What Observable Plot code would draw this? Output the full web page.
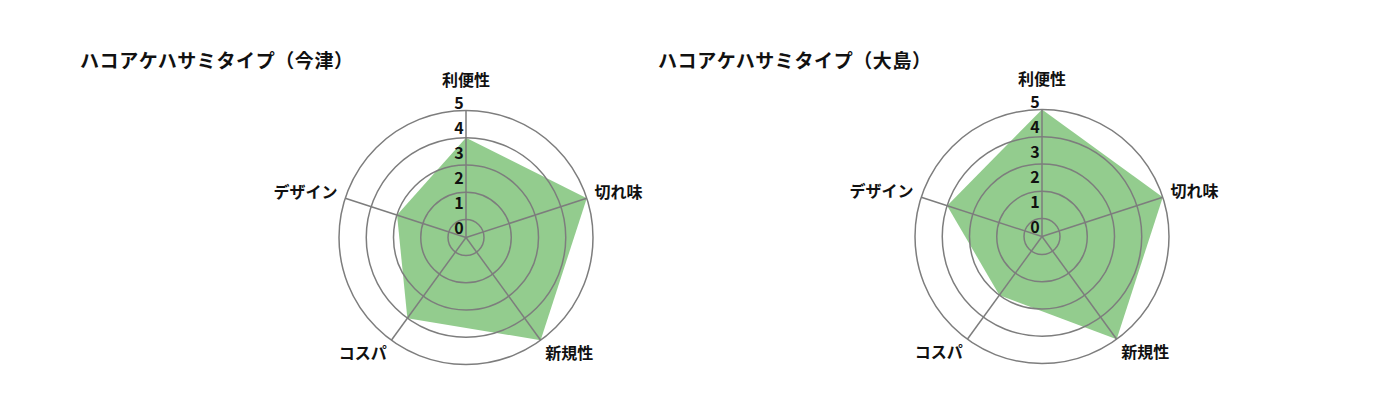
<!DOCTYPE html>
<html>
<head>
<meta charset="utf-8">
<script src="https://cdn.jsdelivr.net/npm/d3@7"></script>
<script src="https://cdn.jsdelivr.net/npm/@observablehq/plot@0.6"></script>
<style>
  body { margin: 0; background: #fff; font-family: "Noto Sans CJK JP", "Noto Sans", sans-serif; }
  #wrap { position: relative; width: 1400px; height: 420px; overflow: hidden; }
  .panel { position: absolute; top: 0; width: 578px; height: 420px; }
  .title { position: absolute; left: 0; top: 49px; font-size: 19px; line-height: 21px; letter-spacing: 0.6px; font-weight: bold; white-space: nowrap; color: #111; }
  .chart { position: absolute; left: 0; top: 70px; }
</style>
</head>
<body>
<div id="wrap"></div>
<script>
// ---- data ----
const axesLabels = ["利便性", "切れ味", "新規性", "コスパ", "デザイン"];
const titles = ["ハコアケハサミタイプ（今津）", "ハコアケハサミタイプ（大島）"];
const imabariValues = [4, 5, 5, 4, 3];
const oshimaValues = [5, 5, 5, 3, 4];
const ringValues = [1, 2, 3, 4, 5];
const tickLabels = [0, 1, 2, 3, 4, 5];

// ---- helpers ----
const rScale = d3.scaleLinear().domain([1, 5]).range([18, 127]);      // ring / value radius
const tickScale = d3.scaleLinear().domain([0, 5]).range([9, 134]);    // tick label radius
const n = axesLabels.length;
const ang = i => i * 2 * Math.PI / n;

function radar(values, title, panelLeft, centerX, centerY) {
  const panel = document.createElement("div");
  panel.className = "panel";
  panel.style.left = panelLeft + "px";
  const t = document.createElement("div");
  t.className = "title";
  t.textContent = title;
  panel.appendChild(t);

  const W = 578, H = 320, top = 70;
  const cx = centerX - panelLeft, cy = centerY - top;

  const poly = values.map((v, i) => ({x: rScale(v) * Math.sin(ang(i)), y: -rScale(v) * Math.cos(ang(i))}));
  const spokes = axesLabels.map((a, i) => ({x2: rScale(5) * Math.sin(ang(i)), y2: -rScale(5) * Math.cos(ang(i))}));
  const labels = axesLabels.map((a, i) => {
    const s = Math.sin(ang(i)), c = Math.cos(ang(i));
    const off = c > 0.9 ? -22 : c < 0 ? 7 : -3;
    return {text: a, x: 135 * s, y: -135 * c + off, side: s > 0.1 ? "start" : s < -0.1 ? "end" : "middle"};
  });

  const chart = Plot.plot({
    width: W, height: H, margin: 0,
    x: {domain: [-cx, W - cx], range: [0, W], axis: null},
    y: {domain: [-cy, H - cy], range: [0, H], axis: null},
    r: {type: "identity"},
    style: {fontFamily: '"Noto Sans CJK JP", sans-serif', overflow: "visible", background: "transparent"},
    marks: [
      Plot.line(poly, {x: "x", y: "y", curve: "linear-closed", fill: "#93cc8e", stroke: "none"}),
      Plot.dot(ringValues, {x: () => 0, y: () => 0, r: d => rScale(d), stroke: "#7d7d7d", strokeWidth: 1.5, fill: "none"}),
      Plot.link(spokes, {x1: () => 0, y1: () => 0, x2: "x2", y2: "y2", stroke: "#7d7d7d", strokeWidth: 1.5}),
      Plot.text(tickLabels, {x: () => -7, y: d => -tickScale(d), text: d => String(d), fontSize: 16, fontWeight: "bold", fill: "#111"}),
      Plot.text(labels.filter(d => d.side === "start"), {x: "x", y: "y", text: "text", textAnchor: "start", fontSize: 16, fontWeight: "bold", fill: "#111"}),
      Plot.text(labels.filter(d => d.side === "end"), {x: "x", y: "y", text: "text", textAnchor: "end", fontSize: 16, fontWeight: "bold", fill: "#111"}),
      Plot.text(labels.filter(d => d.side === "middle"), {x: "x", y: "y", text: "text", textAnchor: "middle", fontSize: 16, fontWeight: "bold", fill: "#111"})
    ]
  });
  chart.classList.add("chart");
  chart.style.position = "absolute";
  chart.style.left = "0px";
  chart.style.top = top + "px";
  panel.appendChild(chart);
  document.getElementById("wrap").appendChild(panel);
}

radar(imabariValues, titles[0], 80, 465.5, 237);
radar(oshimaValues, titles[1], 658, 1041.5, 236);
</script>
</body>
</html>
